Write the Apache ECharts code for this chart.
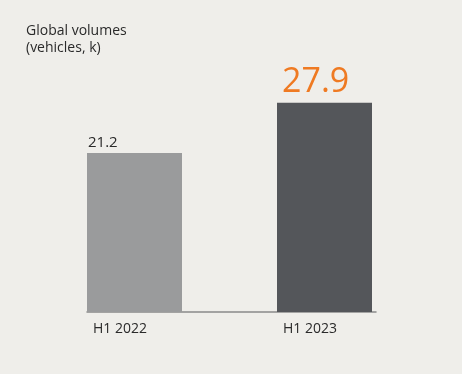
<!DOCTYPE html>
<html>
<head>
<meta charset="utf-8">
<script src="https://cdn.jsdelivr.net/npm/echarts@6/dist/echarts.min.js"></script>
<style>
html,body{margin:0;padding:0;background:#efeeea;}
#c{width:462px;height:374px;}
</style>
</head>
<body>
<div id="c"></div>
<script>
const categories = ['H1 2022', 'H1 2023'];
const values = [21.2, 27.9];
const barColors = ['#9a9b9c', '#54565a'];
const titleLines = ['Global volumes', '(vehicles, k)'];

const chart = echarts.init(document.getElementById('c'));
chart.setOption({
  backgroundColor: '#efeeea',
  animation: false,
  title: {
    text: titleLines.join('\n'),
    left: 21, top: 18,
    textStyle: {fontFamily: 'Open Sans', fontSize: 14, fontWeight: 'normal', color: '#2a2a2a', lineHeight: 17}
  },
  grid: [
    {left: 39.5, right: 42.5, top: 12, bottom: 62},
    {left: 87, right: 86, top: 12, bottom: 62}
  ],
  xAxis: [
    {
      type: 'category', gridIndex: 0, data: categories,
      axisLine: {show: false}, axisTick: {show: false},
      axisLabel: {
        align: 'left', margin: 10, padding: [0, 0, 0, -41.5],
        fontFamily: 'Open Sans', fontSize: 14, color: '#2a2a2a'
      }
    },
    {
      type: 'category', gridIndex: 1, data: categories,
      axisLine: {show: true, lineStyle: {color: '#8a8a8a', width: 1.5}},
      axisTick: {show: false}, axisLabel: {show: false}
    }
  ],
  yAxis: [
    {type: 'value', gridIndex: 0, min: 0, max: 40, show: false},
    {type: 'value', gridIndex: 1, min: 0, max: 40, show: false}
  ],
  series: [{
    type: 'bar',
    xAxisIndex: 0, yAxisIndex: 0,
    barWidth: 95,
    data: values.map((v, i) => ({
      value: v,
      itemStyle: {color: barColors[i]},
      label: i === 0 ? {
        show: true, position: [1, -3], align: 'left', verticalAlign: 'bottom',
        fontFamily: 'Open Sans', fontSize: 15, color: '#2a2a2a'
      } : {
        show: true, position: [5, -3], align: 'left', verticalAlign: 'bottom',
        fontFamily: 'Open Sans', fontSize: 34, color: '#ef7a22'
      }
    }))
  }]
});
</script>
</body>
</html>
